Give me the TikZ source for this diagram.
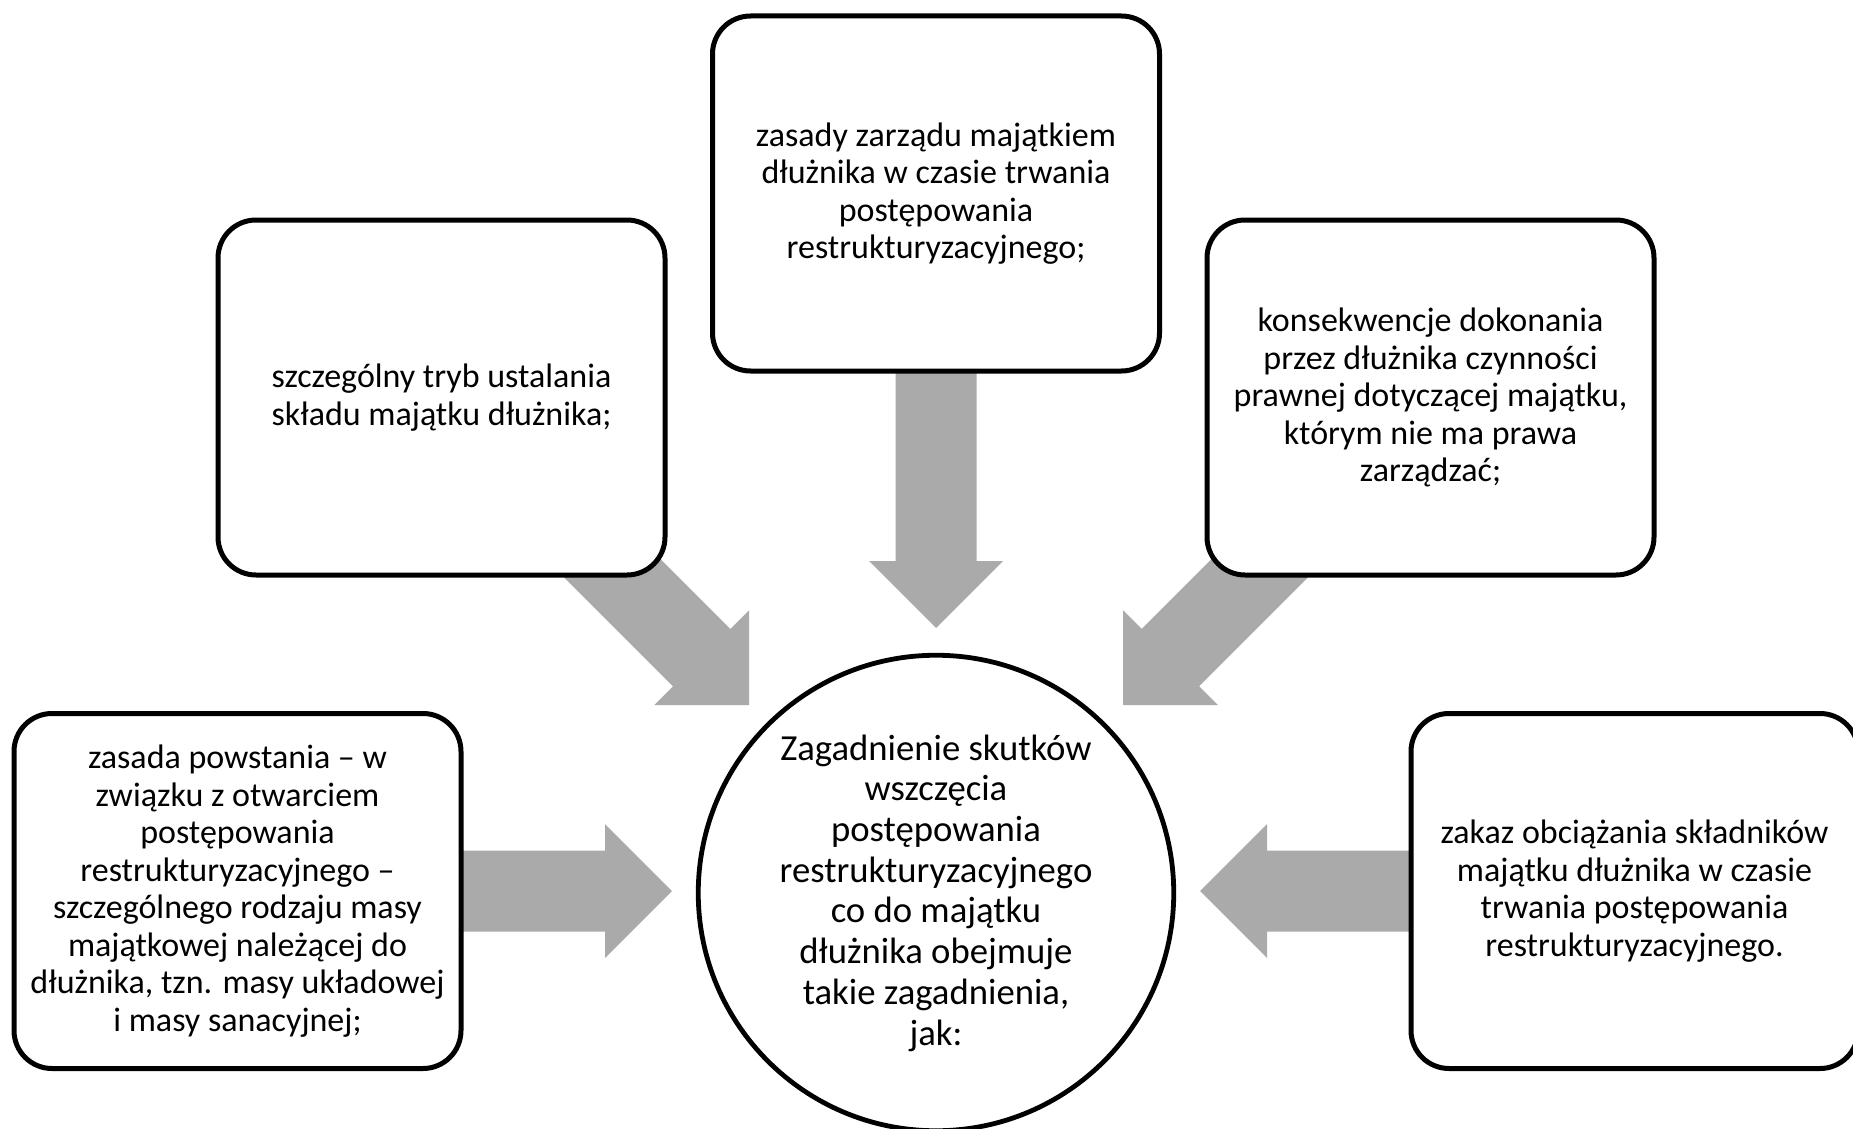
\documentclass[tikz,border=0pt]{standalone}
\usepackage{fontspec}
\setmainfont{Carlito}
\usetikzlibrary{calc,backgrounds}
\definecolor{arrowgray}{RGB}{170,170,170}
\newcommand\boxfont{\fontsize{17pt}{18.75pt}\selectfont}
\newcommand\hubfont{\fontsize{18.35pt}{20.35pt}\selectfont}
% #1 = start (tail, hidden under a box), #2 = tip
\newcommand\blockarrow[2]{%
  \coordinate (ba-h) at ($(#2)!33.5pt!(#1)$);
  \coordinate (ba-s) at (#1);
  \fill[arrowgray] (#2)
    -- ($(ba-h)!33.5pt!90:(#2)$)
    -- ($(ba-h)!20.25pt!90:(#2)$)
    -- ($(ba-s)!20.25pt!90:(#2)$)
    -- ($(ba-s)!20.25pt!-90:(#2)$)
    -- ($(ba-h)!20.25pt!-90:(#2)$)
    -- ($(ba-h)!33.5pt!-90:(#2)$)
    -- cycle;
}
\begin{document}
\begin{tikzpicture}[x=0.5pt,y=-0.5pt,
  box/.style={draw=black, line width=2.5pt, rounded corners=19pt, fill=white,
    minimum width=223.5pt, minimum height=177.5pt, align=center, font=\boxfont, inner sep=0pt},
  hub/.style={circle, draw=black, line width=2.4pt, fill=white,
    minimum size=237.75pt, align=center, font=\hubfont, inner sep=0pt}]
\useasboundingbox (0,0) rectangle (1853,1129);

\node[box] (tb) at (936,193.5) {zasady zarządu majątkiem\\dłużnika w czasie trwania\\postępowania\\restrukturyzacyjnego;};
\node[box] (lu) at (441.5,397.5) {szczególny tryb ustalania\\składu majątku dłużnika;};
\node[box] (ru) at (1430.5,397.5) {konsekwencje dokonania\\przez dłużnika czynności\\prawnej dotyczącej majątku,\\którym nie ma prawa\\zarządzać;};
\node[box] (ll) at (237.5,891) {zasada powstania – w\\związku z otwarciem\\postępowania\\restrukturyzacyjnego –\\szczególnego rodzaju masy\\majątkowej należącej do\\dłużnika, tzn. masy układowej\\i masy sanacyjnej;};
\node[box] (rl) at (1634.5,891) {zakaz obciążania składników\\majątku dłużnika w czasie\\trwania postępowania\\restrukturyzacyjnego.};
\node[hub] (hub) at (936,893) {Zagadnienie skutków\\wszczęcia\\postępowania\\restrukturyzacyjnego\\co do majątku\\dłużnika obejmuje\\takie zagadnienia,\\jak:};

\coordinate (tipT) at (936,628);
\coordinate (tipLU) at (749,705);
\coordinate (tipRU) at (1123,705);
\coordinate (tipL) at (672,891);
\coordinate (tipR) at (1200,891);

\begin{scope}[on background layer]
  \blockarrow{tb.center}{tipT}
  \blockarrow{lu.center}{tipLU}
  \blockarrow{ru.center}{tipRU}
  \blockarrow{ll.center}{tipL}
  \blockarrow{rl.center}{tipR}
\end{scope}
\end{tikzpicture}
\end{document}
